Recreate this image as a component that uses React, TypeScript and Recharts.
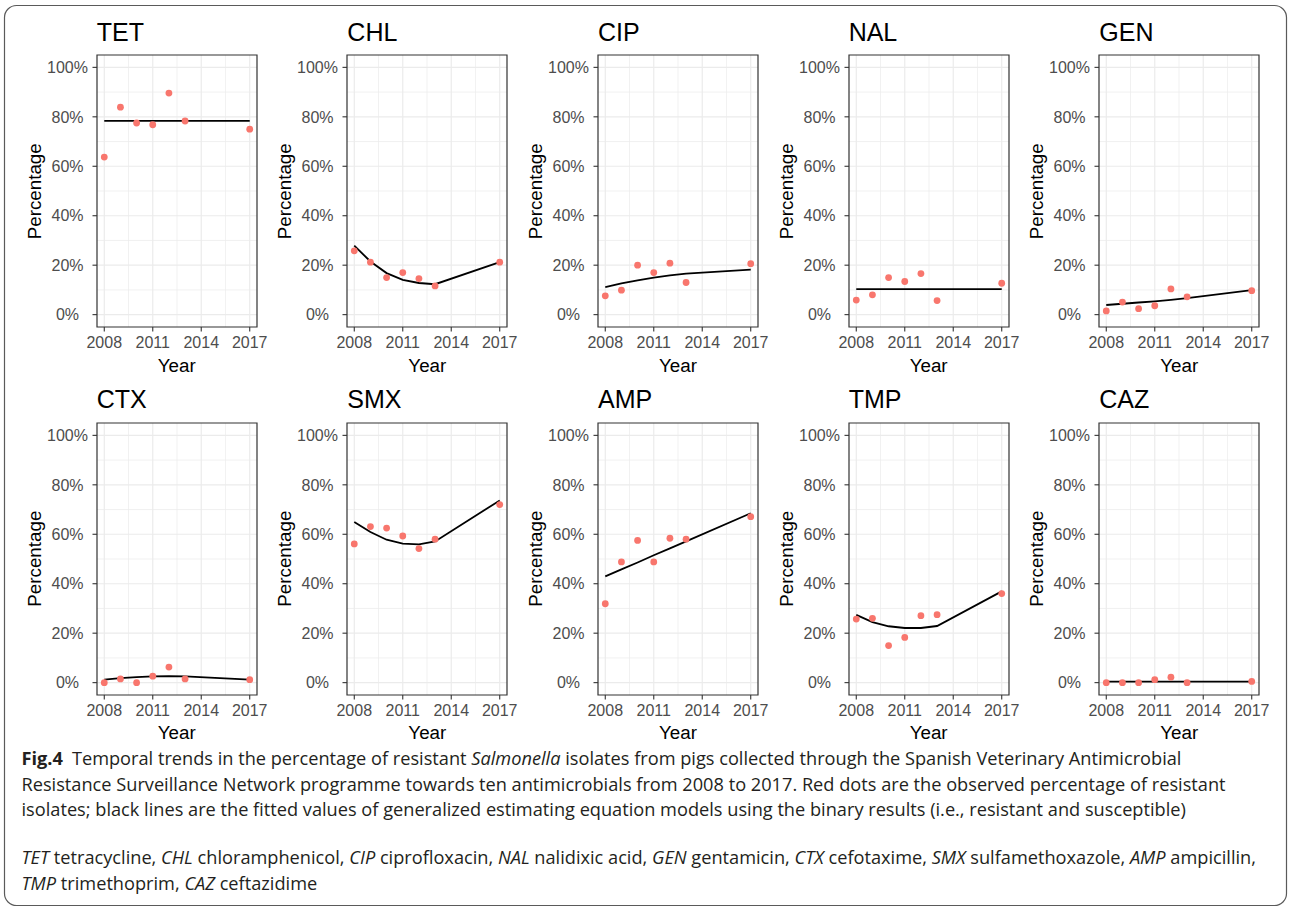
import { ComposedChart, Line, XAxis, YAxis, CartesianGrid, ReferenceArea } from "recharts";

// years sampled in the surveillance programme
const years = [2008, 2009, 2010, 2011, 2012, 2013, 2017];

// observed % resistant (red dots) and fitted GEE values (black lines)
const tetObs = [63.7, 83.9, 77.5, 76.8, 89.6, 78.3, 75.0];
const tetFit = [78.4, 78.4, 78.4, 78.4, 78.4, 78.4, 78.4];
const chlObs = [25.8, 21.2, 15.0, 17.0, 14.6, 11.6, 21.2];
const chlFit = [27.9, 21.5, 16.8, 14.1, 12.8, 12.3, 21.2];
const cipObs = [7.6, 9.9, 20.0, 17.0, 20.8, 13.0, 20.6];
const cipFit = [11.1, 12.6, 13.9, 15.0, 15.9, 16.6, 18.2];
const nalObs = [5.9, 8.0, 15.0, 13.4, 16.6, 5.7, 12.7];
const nalFit = [10.3, 10.3, 10.3, 10.3, 10.3, 10.3, 10.3];
const genObs = [1.5, 5.1, 2.4, 3.6, 10.4, 7.2, 9.7];
const genFit = [3.9, 4.4, 4.9, 5.4, 6.0, 6.7, 9.9];
const ctxObs = [0, 1.5, 0, 2.6, 6.3, 1.5, 1.2];
const ctxFit = [1.2, 1.8, 2.2, 2.5, 2.6, 2.5, 1.2];
const smxObs = [56.1, 63.1, 62.5, 59.3, 54.2, 58.0, 72.0];
const smxFit = [65.0, 60.9, 57.8, 56.2, 55.9, 57.1, 73.7];
const ampObs = [31.9, 48.8, 57.5, 48.8, 58.4, 58.0, 67.1];
const ampFit = [43.0, 45.8, 48.6, 51.5, 54.3, 57.1, 68.5];
const tmpObs = [25.7, 26.0, 15.0, 18.3, 27.1, 27.5, 36.0];
const tmpFit = [27.4, 24.5, 22.8, 22.1, 22.1, 22.9, 36.9];
const cazObs = [0, 0, 0, 1.2, 2.2, 0, 0.5];
const cazFit = [0.4, 0.4, 0.4, 0.4, 0.4, 0.4, 0.4];

const xTicks = [2008, 2011, 2014, 2017];
const xMinor = [2009.5, 2012.5, 2015.5];
const yTicks = [0, 20, 40, 60, 80, 100];
const yMinor = [10, 30, 50, 70, 90];

const panels = [
  { name: "TET", obs: tetObs, fit: tetFit },
  { name: "CHL", obs: chlObs, fit: chlFit },
  { name: "CIP", obs: cipObs, fit: cipFit },
  { name: "NAL", obs: nalObs, fit: nalFit },
  { name: "GEN", obs: genObs, fit: genFit },
  { name: "CTX", obs: ctxObs, fit: ctxFit },
  { name: "SMX", obs: smxObs, fit: smxFit },
  { name: "AMP", obs: ampObs, fit: ampFit },
  { name: "TMP", obs: tmpObs, fit: tmpFit },
  { name: "CAZ", obs: cazObs, fit: cazFit },
];

const FONT = '"Liberation Sans", Arial, Helvetica, sans-serif';
const CAP_FONT = '"Open Sans", "Noto Sans", sans-serif';
const X_DOM: [number, number] = [2007.55, 2017.45];
const Y_DOM: [number, number] = [-5, 105];

const PW = 160;
const PH = 272;
const YW = 56;
const XH = 30;
const RM = 20;
const colLeft = (c: number) => 96.7 + c * 250.65;
const rowTop = (r: number) => 55.3 + r * 367.4;

const YTick = ({ x, y, payload }: any) => (
  <text x={x - 23} y={y} dy="0.36em" textAnchor="middle" fill="#4D4D4D" fontSize={16} fontFamily={FONT}>
    {payload.value}%
  </text>
);

function Panel({ obs, fit }: { obs: number[]; fit: number[] }) {
  const rows = years.map((year, i) => ({ year, obs: obs[i], fit: fit[i] }));
  return (
    <ComposedChart width={YW + PW + RM} height={PH + XH + 2} data={rows} margin={{ top: 2, right: RM, bottom: 0, left: 0 }}>
      <CartesianGrid stroke="#EBEBEB" strokeWidth={0.7} horizontalValues={yMinor} verticalValues={xMinor} />
      <CartesianGrid stroke="#EBEBEB" strokeWidth={1.2} horizontalValues={yTicks} verticalValues={xTicks} />
      <XAxis
        dataKey="year"
        type="number"
        domain={X_DOM}
        ticks={xTicks}
        height={XH}
        axisLine={false}
        tickLine={{ stroke: "#333333", strokeWidth: 1.1 }}
        tickSize={4.5}
        tickMargin={4.8}
        interval={0}
        tick={{ fill: "#4D4D4D", fontSize: 16, fontFamily: FONT }}
      />
      <YAxis
        type="number"
        domain={Y_DOM}
        ticks={yTicks}
        width={YW}
        axisLine={false}
        tickLine={{ stroke: "#333333", strokeWidth: 1.1 }}
        tickSize={4.5}
        tickMargin={2}
        interval={0}
        tick={YTick}
      />
      <ReferenceArea x1={X_DOM[0]} x2={X_DOM[1]} y1={Y_DOM[0]} y2={Y_DOM[1]} fill="none" stroke="#333333" strokeWidth={1.2} />
      <Line dataKey="obs" stroke="none" dot={{ r: 3.4, fill: "#F8766D", stroke: "none" }} activeDot={false} isAnimationActive={false} />
      <Line dataKey="fit" type="linear" stroke="#000000" strokeWidth={1.8} dot={false} activeDot={false} isAnimationActive={false} />
    </ComposedChart>
  );
}

export default function App() {
  return (
    <div style={{ position: "absolute", left: 0, top: 0, width: 1290, height: 908, background: "#fff" }}>
      {panels.map((p, i) => {
        const c = i % 5;
        const r = Math.floor(i / 5);
        return (
          <div key={p.name} style={{ position: "absolute", left: colLeft(c) - YW, top: rowTop(r) - 2 }}>
            <Panel obs={p.obs} fit={p.fit} />
          </div>
        );
      })}
      <svg width={1290} height={908} style={{ position: "absolute", left: 0, top: 0, pointerEvents: "none" }}>
        <rect x={4.5} y={5.5} width={1282} height={900} rx={12} fill="none" stroke="#5a5a5a" strokeWidth={1.2} />
        {panels.map((p, i) => {
          const left = colLeft(i % 5);
          const top = rowTop(Math.floor(i / 5));
          return (
            <g key={p.name} fontFamily={FONT}>
              <text x={left} y={top - 14.5} fontSize={25} fill="#000">{p.name}</text>
              <text
                x={left - 62.7}
                y={top + PH / 2}
                fontSize={18.8}
                fill="#000"
                textAnchor="middle"
                dy="0.36em"
                transform={`rotate(-90 ${left - 62.7} ${top + PH / 2})`}
              >
                Percentage
              </text>
              <text x={left + PW / 2} y={top + PH + 44.4} fontSize={18.8} fill="#000" textAnchor="middle">Year</text>
            </g>
          );
        })}
        <g fontFamily={CAP_FONT} fontSize={18.2} fill="#231F20">
          <text x={21.5} y={765}>
            <tspan fontWeight="bold">Fig.4</tspan>
            <tspan dx={9}>Temporal trends in the percentage of resistant </tspan>
            <tspan fontStyle="italic">Salmonella</tspan>
            <tspan> isolates from pigs collected through the Spanish Veterinary Antimicrobial</tspan>
          </text>
          <text x={21.5} y={790.7}>
            Resistance Surveillance Network programme towards ten antimicrobials from 2008 to 2017. Red dots are the observed percentage of resistant
          </text>
          <text x={21.5} y={816}>
            isolates; black lines are the fitted values of generalized estimating equation models using the binary results (i.e., resistant and susceptible)
          </text>
          <text x={21.5} y={864}>
            <tspan fontStyle="italic">TET</tspan> tetracycline, <tspan fontStyle="italic">CHL</tspan> chloramphenicol,{" "}
            <tspan fontStyle="italic">CIP</tspan> ciprofloxacin, <tspan fontStyle="italic">NAL</tspan> nalidixic acid,{" "}
            <tspan fontStyle="italic">GEN</tspan> gentamicin, <tspan fontStyle="italic">CTX</tspan> cefotaxime,{" "}
            <tspan fontStyle="italic">SMX</tspan> sulfamethoxazole, <tspan fontStyle="italic">AMP</tspan> ampicillin,
          </text>
          <text x={21.5} y={890}>
            <tspan fontStyle="italic">TMP</tspan> trimethoprim, <tspan fontStyle="italic">CAZ</tspan> ceftazidime
          </text>
        </g>
      </svg>
    </div>
  );
}
